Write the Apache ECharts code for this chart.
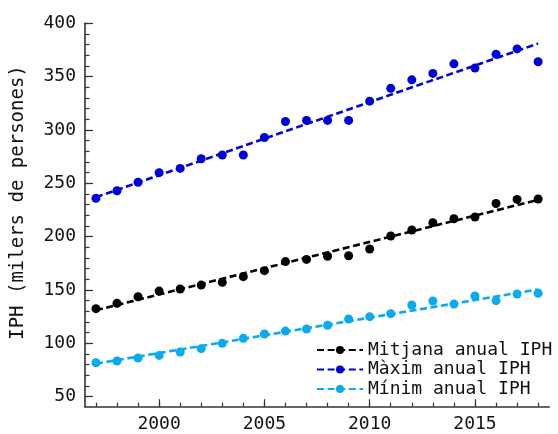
<!DOCTYPE html>
<html>
<head>
<meta charset="utf-8">
<script src="https://cdn.jsdelivr.net/npm/echarts@6/dist/echarts.min.js"></script>
<style>html,body{margin:0;padding:0;background:#fff}#c{width:558px;height:434px}</style>
</head>
<body>
<div id="c"></div>
<script>
const years = [1997,1998,1999,2000,2001,2002,2003,2004,2005,2006,2007,2008,2009,2010,2011,2012,2013,2014,2015,2016,2017,2018];
const meanValues = [132.5,137.5,143.7,149,150.9,154.6,157.2,162.5,168.1,176.6,178.7,181.6,182.1,188.4,200.6,206.2,213.1,216.8,218.4,231.1,234.9,235.3];
const maxValues = [236,243,251,260,264,273,276.5,276.5,293,308,309,309,309,327,339,347,353,362,358,371,376,364];
const minValues = [81.8,83.4,86.2,88.7,91.9,95,100,104.7,108.7,111.5,113.4,116.9,122.8,125,127.8,135.9,139.7,136.8,144.4,140,146.2,146.9];
// trend line end points [year, value]
const meanTrend = [[1997,131],[2018,234.5]];
const maxTrend = [[1997,237],[2018,381]];
const minTrend = [[1997,81],[2018,150.5]];
const seriesNames = ['Mitjana anual IPH','Màxim anual IPH','Mínim anual IPH'];
const yMajorTicks = [50,100,150,200,250,300,350,400];
const yMinorTicks = [50,60,70,80,90,100,110,120,130,140,150,160,170,180,190,200,210,220,230,240,250,260,270,280,290,300,310,320,330,340,350,360,370,380,390,400];
const xMajorTicks = [2000,2005,2010,2015];

const colors = ['#000000','#0000d8','#0aaaee'];
const FONT = 'DejaVu Sans Mono';
const chart = echarts.init(document.getElementById('c'));

const pts = arr => years.map((y,i)=>[y,arr[i]]);
const trends = [meanTrend,maxTrend,minTrend];
const vals = [meanValues,maxValues,minValues];

const series = [];
for (let k=0;k<3;k++){
  series.push({
    type:'line', name:seriesNames[k], data:trends[k], xAxisIndex:0, yAxisIndex:0,
    symbol:'circle', symbolSize:9, showSymbol:false, silent:true,
    lineStyle:{color:colors[k], width:2.6, type:[7,3.6]}, itemStyle:{color:colors[k], opacity:1},
    z:2
  });
}
for (let k=0;k<3;k++){
  series.push({
    type:'scatter', name:seriesNames[k], data:pts(vals[k]), xAxisIndex:0, yAxisIndex:0,
    symbol:'circle', symbolSize:9, itemStyle:{color:colors[k], opacity:1}, z:3
  });
}

const xCommon = {type:'value', min:1996.48, max:2018.53, position:'bottom', splitLine:{show:false}};
const yCommon = {type:'value', min:40.6, max:400, position:'left', splitLine:{show:false}};

chart.setOption({
  animation:false,
  backgroundColor:'#ffffff',
  grid:{left:85, right:8.7, top:23.3, bottom:27.3, containLabel:false},
  legend:{
    data:seriesNames, orient:'vertical', left:316, top:341, padding:0,
    itemWidth:46, itemHeight:10, itemGap:1.5,
    textStyle:{fontFamily:FONT, fontSize:18, color:'#111'}
  },
  xAxis:[
    Object.assign({}, xCommon, {
      axisLine:{show:true, lineStyle:{color:'#333', width:1.6}},
      axisTick:{show:true, inside:true, length:4, customValues:years, lineStyle:{color:'#333', width:1.2}},
      axisLabel:{show:false}
    }),
    Object.assign({}, xCommon, {
      axisLine:{show:false},
      axisTick:{show:true, inside:true, length:7.5, customValues:xMajorTicks, lineStyle:{color:'#333', width:1.2}},
      axisLabel:{show:true, customValues:xMajorTicks, margin:9, fontFamily:FONT, fontSize:18, color:'#111',
        formatter: v => String(Math.round(v))}
    })
  ],
  yAxis:[
    Object.assign({}, yCommon, {
      name:'IPH (milers de persones)', nameLocation:'middle', nameGap:57, nameRotate:90,
      nameTextStyle:{fontFamily:FONT, fontSize:19, color:'#111', padding:[0,0,0,25]},
      axisLine:{show:true, lineStyle:{color:'#333', width:1.6}},
      axisTick:{show:true, inside:true, length:4.5, customValues:yMinorTicks, lineStyle:{color:'#333', width:1.2}},
      axisLabel:{show:false}
    }),
    Object.assign({}, yCommon, {
      axisLine:{show:false},
      axisTick:{show:true, inside:true, length:8, customValues:yMajorTicks, lineStyle:{color:'#333', width:1.2}},
      axisLabel:{show:true, customValues:yMajorTicks, margin:9, fontFamily:FONT, fontSize:18, color:'#111',
        formatter: v => String(Math.round(v))}
    })
  ],
  series:series
});
</script>
</body>
</html>
